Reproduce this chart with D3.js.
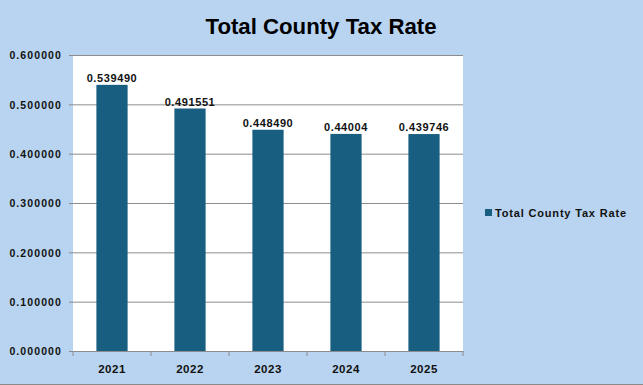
<!DOCTYPE html>
<html>
<head>
<meta charset="utf-8">
<script src="https://cdn.jsdelivr.net/npm/d3@7"></script>
<style>
    body { margin: 0; background: #b9d4f0; }
    svg { display: block; font-family: "Liberation Sans", Arial, sans-serif; }
</style>
</head>
<body>
<svg id="chart"></svg>
<script>
// chart data
var years = ["2021", "2022", "2023", "2024", "2025"];
var rates = [0.539490, 0.491551, 0.448490, 0.44004, 0.439746];
var rateLabels = ["0.539490", "0.491551", "0.448490", "0.44004", "0.439746"];
var yTicks = [0, 0.1, 0.2, 0.3, 0.4, 0.5, 0.6];
var seriesName = "Total County Tax Rate";

var width = 643, height = 385;
var margin = {top: 55, right: 180, bottom: 34, left: 73};

var svg = d3.select("#chart")
    .attr("width", width)
    .attr("height", height);

svg.append("rect")
    .attr("width", width).attr("height", height)
    .attr("fill", "#b9d4f0");
// thin border at bottom
svg.append("line")
    .attr("x1", 0).attr("x2", width)
    .attr("y1", height - 0.5).attr("y2", height - 0.5)
    .attr("stroke", "#8a8a8a");

var x = d3.scaleBand()
    .domain(years)
    .range([margin.left, width - margin.right])
    .paddingInner(0.6)
    .paddingOuter(0.3);

var y = d3.scaleLinear()
    .domain([0, 0.6])
    .range([height - margin.bottom, margin.top]);

// plot area
svg.append("rect")
    .attr("x", margin.left).attr("y", margin.top)
    .attr("width", width - margin.right - margin.left)
    .attr("height", height - margin.bottom - margin.top)
    .attr("fill", "#ffffff");

// y axis with gridlines
var yAxis = svg.append("g")
    .attr("transform", "translate(" + margin.left + ",0)")
    .call(d3.axisLeft(y)
        .tickValues(yTicks)
        .tickSize(-(width - margin.right - margin.left))
        .tickFormat(d3.format(".6f")));
yAxis.select(".domain").remove();
yAxis.selectAll(".tick line")
    .attr("x1", -4)
    .attr("stroke", "#8c8c8c");
yAxis.selectAll(".tick text")
    .attr("x", -11)
    .attr("dy", "0.35em")
    .style("font-size", "10.5px")
    .style("font-weight", "bold")
    .style("letter-spacing", "1.1px")
    .attr("fill", "#111");

// bars
svg.selectAll(".bar")
    .data(rates)
    .enter().append("rect")
    .attr("class", "bar")
    .attr("x", function (d, i) { return x(years[i]); })
    .attr("y", function (d) { return y(d); })
    .attr("width", x.bandwidth())
    .attr("height", function (d) { return y(0) - y(d); })
    .attr("fill", "#175e80");

// value labels
svg.selectAll(".val")
    .data(rates)
    .enter().append("text")
    .attr("class", "val")
    .attr("x", function (d, i) { return x(years[i]) + x.bandwidth() / 2; })
    .attr("y", function (d) { return y(d) - 3; })
    .attr("text-anchor", "middle")
    .style("font-size", "11px")
    .style("font-weight", "bold")
    .style("letter-spacing", "0.6px")
    .attr("fill", "#111")
    .text(function (d, i) { return rateLabels[i]; });

// x axis
var xAxis = svg.append("g")
    .attr("transform", "translate(0," + y(0) + ")")
    .call(d3.axisBottom(x).tickSize(0).tickPadding(14));
xAxis.select(".domain").attr("stroke", "#8c8c8c");
xAxis.selectAll(".tick text")
    .style("font-size", "11.5px")
    .style("font-weight", "bold")
    .style("letter-spacing", "0.5px")
    .attr("fill", "#111");
// category boundary ticks
var step = x.step();
var bounds = d3.range(years.length + 1).map(function (i) { return margin.left + i * step; });
xAxis.selectAll(".bound")
    .data(bounds)
    .enter().append("line")
    .attr("class", "bound")
    .attr("x1", function (d) { return d; }).attr("x2", function (d) { return d; })
    .attr("y1", 0).attr("y2", 5)
    .attr("stroke", "#8c8c8c");

// title
svg.append("text")
    .attr("x", 321)
    .attr("y", 34)
    .attr("text-anchor", "middle")
    .style("font-size", "21.5px")
    .style("font-weight", "bold")
    .attr("fill", "#000")
    .attr("textLength", 231)
    .attr("lengthAdjust", "spacingAndGlyphs")
    .text(seriesName);

// legend
var legend = svg.append("g").attr("transform", "translate(485,209)");
legend.append("rect")
    .attr("width", 7).attr("height", 7)
    .attr("fill", "#175e80");
legend.append("text")
    .attr("x", 10).attr("y", 7.5)
    .style("font-size", "11px")
    .style("font-weight", "bold")
    .attr("fill", "#111")
    .attr("textLength", 131)
    .text(seriesName);
</script>
</body>
</html>
